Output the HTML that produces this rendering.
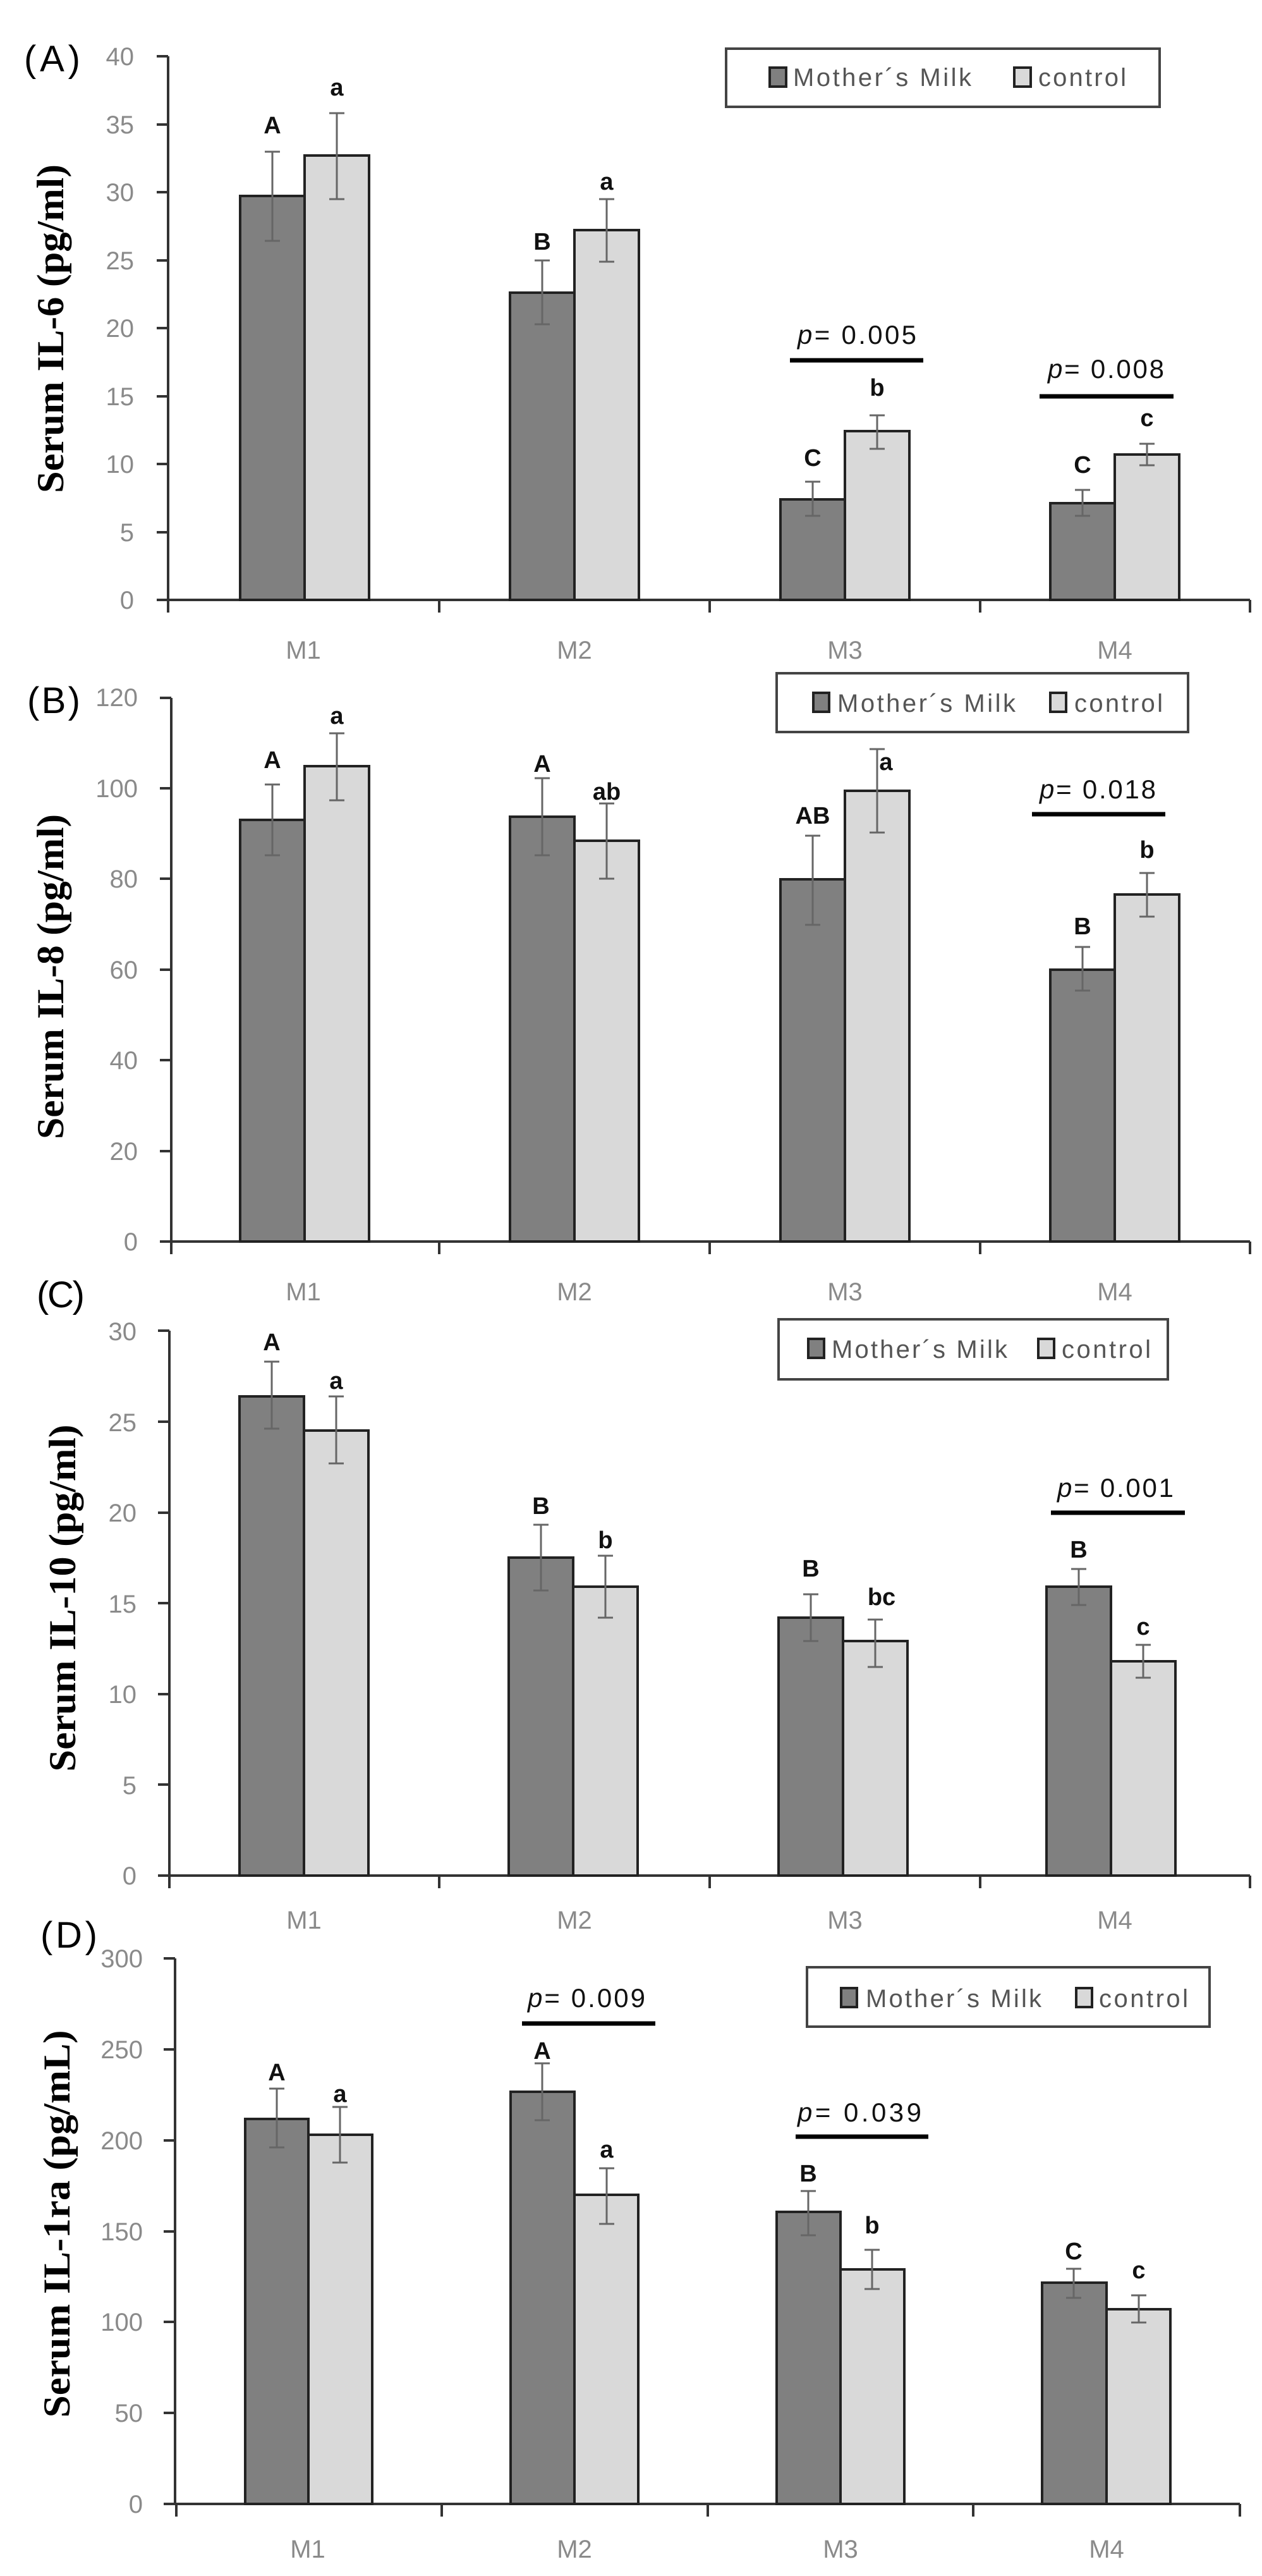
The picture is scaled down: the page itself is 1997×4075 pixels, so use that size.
<!DOCTYPE html>
<html><head><meta charset="utf-8"><style>
html,body{margin:0;padding:0;background:#fff}
svg{display:block}
.t{font-family:"Liberation Sans",sans-serif;font-size:40px;fill:#8a8a8a}
.xl{font-family:"Liberation Sans",sans-serif;font-size:40px;fill:#8a8a8a;text-anchor:middle}
.lt{font-family:"Liberation Sans",sans-serif;font-size:38px;font-weight:bold;fill:#111;text-anchor:middle}
.pv{font-family:"Liberation Sans",sans-serif;font-size:42px;fill:#111;text-anchor:middle}
.yt{font-family:"Liberation Serif",serif;font-size:60px;font-weight:bold;fill:#000;text-anchor:middle}
.pl{font-family:"Liberation Sans",sans-serif;font-size:58px;fill:#000}
.lg{font-family:"Liberation Sans",sans-serif;font-size:40px;fill:#555}
.d{fill:#808080;stroke:#222;stroke-width:4}
.l{fill:#d9d9d9;stroke:#222;stroke-width:4}
.e{stroke:#666;stroke-width:3;fill:none}
.ax{stroke:#333;stroke-width:4;fill:none}
.pb{stroke:#000;stroke-width:7}
.box{fill:#fff;stroke:#444;stroke-width:4}
</style></head><body>
<svg width="1997" height="4075" viewBox="0 0 1997 4075" xmlns="http://www.w3.org/2000/svg">

<!-- ============ PANEL A ============ -->
<text class="pl" x="38" y="113" textLength="89">(A)</text>
<text class="yt" transform="translate(100,520) rotate(-90)" textLength="520" lengthAdjust="spacingAndGlyphs">Serum IL-6 (pg/ml)</text>
<g class="t" text-anchor="end">
<text x="212" y="963">0</text><text x="212" y="856">5</text><text x="212" y="748">10</text>
<text x="212" y="641">15</text><text x="212" y="533">20</text><text x="212" y="426">25</text>
<text x="212" y="318">30</text><text x="212" y="211">35</text><text x="212" y="103">40</text>
</g>
<path class="ax" d="M266 89 V949 M248 949H1978 M248 842H266 M248 734H266 M248 627H266 M248 519H266 M248 412H266 M248 304H266 M248 197H266 M248 89H266 M266 949V969 M695 949V969 M1123 949V969 M1551 949V969 M1978 949V969"/>
<rect class="d" x="380" y="310" width="102" height="639"/><rect class="l" x="482" y="246" width="102" height="703"/>
<rect class="d" x="807" y="463" width="102" height="486"/><rect class="l" x="909" y="364" width="102" height="585"/>
<rect class="d" x="1235" y="790" width="102" height="159"/><rect class="l" x="1337" y="682" width="102" height="267"/>
<rect class="d" x="1662" y="796" width="102" height="153"/><rect class="l" x="1764" y="719" width="102" height="230"/>
<path class="e" d="M431 240V381M419 240H443M419 381H443 M533 179V315M521 179H545M521 315H545 M858 412V513M846 412H870M846 513H870 M960 315V414M948 315H972M948 414H972 M1286 762V816M1274 762H1298M1274 816H1298 M1388 657V710M1376 657H1400M1376 710H1400 M1713 775V816M1701 775H1725M1701 816H1725 M1815 702V736M1803 702H1827M1803 736H1827"/>
<g class="lt"><text x="431" y="211">A</text><text x="533" y="151">a</text><text x="858" y="395">B</text><text x="960" y="300">a</text><text x="1388" y="626">b</text><text x="1286" y="737">C</text><text x="1713" y="748">C</text><text x="1815" y="674">c</text></g>
<path class="pb" d="M1250 570H1461 M1645 627H1857"/>
<text class="pv" x="1356" y="544" textLength="188"><tspan font-style="italic">p</tspan>= 0.005</text>
<text class="pv" x="1750" y="598" textLength="184"><tspan font-style="italic">p</tspan>= 0.008</text>
<rect class="box" x="1149" y="77" width="686" height="92"/>
<rect class="d" x="1218" y="107" width="26" height="30" stroke-width="3"/>
<text class="lg" x="1255" y="136" textLength="282">Mother´s Milk</text>
<rect class="l" x="1605" y="107" width="26" height="30" stroke-width="3"/>
<text class="lg" x="1643" y="136" textLength="139">control</text>
<g class="xl"><text x="480" y="1042">M1</text><text x="909" y="1042">M2</text><text x="1337" y="1042">M3</text><text x="1764" y="1042">M4</text></g>

<!-- ============ PANEL B ============ -->
<text class="pl" x="43" y="1128" textLength="84">(B)</text>
<text class="yt" transform="translate(100,1545) rotate(-90)" textLength="514" lengthAdjust="spacingAndGlyphs">Serum IL-8 (pg/ml)</text>
<g class="t" text-anchor="end">
<text x="218" y="1978">0</text><text x="218" y="1835">20</text><text x="218" y="1691">40</text>
<text x="218" y="1548">60</text><text x="218" y="1404">80</text><text x="218" y="1261">100</text>
<text x="218" y="1117">120</text>
</g>
<path class="ax" d="M271 1104V1964 M253 1964H1978 M253 1821H271 M253 1677H271 M253 1534H271 M253 1390H271 M253 1247H271 M253 1104H271 M271 1964V1984 M695 1964V1984 M1123 1964V1984 M1551 1964V1984 M1978 1964V1984"/>
<rect class="d" x="380" y="1297" width="102" height="667"/><rect class="l" x="482" y="1212" width="102" height="752"/>
<rect class="d" x="807" y="1292" width="102" height="672"/><rect class="l" x="909" y="1330" width="102" height="634"/>
<rect class="d" x="1235" y="1391" width="102" height="573"/><rect class="l" x="1337" y="1251" width="102" height="713"/>
<rect class="d" x="1662" y="1534" width="102" height="430"/><rect class="l" x="1764" y="1415" width="102" height="549"/>
<path class="e" d="M431 1241V1353M419 1241H443M419 1353H443 M533 1160V1266M521 1160H545M521 1266H545 M858 1231V1353M846 1231H870M846 1353H870 M960 1271V1390M948 1271H972M948 1390H972 M1286 1322V1463M1274 1322H1298M1274 1463H1298 M1388 1185V1317M1376 1185H1400M1376 1317H1400 M1713 1498V1567M1701 1498H1725M1701 1567H1725 M1815 1381V1450M1803 1381H1827M1803 1450H1827"/>
<g class="lt"><text x="431" y="1215">A</text><text x="533" y="1145">a</text><text x="858" y="1221">A</text><text x="960" y="1265">ab</text><text x="1286" y="1303">AB</text><text x="1402" y="1218">a</text><text x="1713" y="1478">B</text><text x="1815" y="1357">b</text></g>
<path class="pb" d="M1633 1288H1844"/>
<text class="pv" x="1737" y="1263" textLength="184"><tspan font-style="italic">p</tspan>= 0.018</text>
<rect class="box" x="1229" y="1065" width="651" height="93"/>
<rect class="d" x="1287" y="1096" width="25" height="30" stroke-width="3"/>
<text class="lg" x="1325" y="1126" textLength="282">Mother´s Milk</text>
<rect class="l" x="1662" y="1096" width="25" height="30" stroke-width="3"/>
<text class="lg" x="1700" y="1126" textLength="140">control</text>
<g class="xl"><text x="480" y="2057">M1</text><text x="909" y="2057">M2</text><text x="1337" y="2057">M3</text><text x="1764" y="2057">M4</text></g>

<!-- ============ PANEL C ============ -->
<text class="pl" x="58" y="2068" textLength="76">(C)</text>
<text class="yt" transform="translate(119,2528) rotate(-90)" textLength="549" lengthAdjust="spacingAndGlyphs">Serum IL-10 (pg/ml)</text>
<g class="t" text-anchor="end">
<text x="216" y="2981">0</text><text x="216" y="2838">5</text><text x="216" y="2694">10</text>
<text x="216" y="2551">15</text><text x="216" y="2407">20</text><text x="216" y="2264">25</text>
<text x="216" y="2120">30</text>
</g>
<path class="ax" d="M268 2105V2967 M250 2967H1978 M250 2823H268 M250 2680H268 M250 2536H268 M250 2393H268 M250 2249H268 M250 2105H268 M268 2967V2987 M695 2967V2987 M1123 2967V2987 M1551 2967V2987 M1978 2967V2987"/>
<rect class="d" x="379" y="2209" width="102" height="758"/><rect class="l" x="481" y="2263" width="102" height="704"/>
<rect class="d" x="805" y="2464" width="102" height="503"/><rect class="l" x="907" y="2510" width="102" height="457"/>
<rect class="d" x="1232" y="2559" width="102" height="408"/><rect class="l" x="1334" y="2596" width="102" height="371"/>
<rect class="d" x="1656" y="2510" width="102" height="457"/><rect class="l" x="1758" y="2628" width="102" height="339"/>
<path class="e" d="M430 2154V2260M418 2154H442M418 2260H442 M532 2209V2315M520 2209H544M520 2315H544 M856 2412V2516M844 2412H868M844 2516H868 M958 2461V2559M946 2461H970M946 2559H970 M1283 2522V2596M1271 2522H1295M1271 2596H1295 M1385 2562V2637M1373 2562H1397M1373 2637H1397 M1707 2482V2539M1695 2482H1719M1695 2539H1719 M1809 2602V2654M1797 2602H1821M1797 2654H1821"/>
<g class="lt"><text x="430" y="2136">A</text><text x="532" y="2197">a</text><text x="856" y="2395">B</text><text x="958" y="2449">b</text><text x="1283" y="2494">B</text><text x="1395" y="2539">bc</text><text x="1707" y="2464">B</text><text x="1809" y="2586">c</text></g>
<path class="pb" d="M1663 2393H1875"/>
<text class="pv" x="1765" y="2368" textLength="184"><tspan font-style="italic">p</tspan>= 0.001</text>
<rect class="box" x="1232" y="2087" width="616" height="95"/>
<rect class="d" x="1279" y="2118" width="25" height="30" stroke-width="3"/>
<text class="lg" x="1316" y="2148" textLength="278">Mother´s Milk</text>
<rect class="l" x="1643" y="2118" width="25" height="30" stroke-width="3"/>
<text class="lg" x="1680" y="2148" textLength="141">control</text>
<g class="xl"><text x="481" y="3051">M1</text><text x="909" y="3051">M2</text><text x="1337" y="3051">M3</text><text x="1764" y="3051">M4</text></g>

<!-- ============ PANEL D ============ -->
<text class="pl" x="64" y="3081" textLength="90">(D)</text>
<text class="yt" transform="translate(110,3518) rotate(-90)" textLength="613" lengthAdjust="spacingAndGlyphs">Serum IL-1ra (pg/mL)</text>
<g class="t" text-anchor="end">
<text x="226" y="3975">0</text><text x="226" y="3831">50</text><text x="226" y="3687">100</text>
<text x="226" y="3544">150</text><text x="226" y="3400">200</text><text x="226" y="3256">250</text>
<text x="226" y="3112">300</text>
</g>
<path class="ax" d="M277 3098V3961 M259 3961H1962 M259 3817H277 M259 3673H277 M259 3530H277 M259 3386H277 M259 3242H277 M259 3098H277 M279 3961V3981 M699 3961V3981 M1120 3961V3981 M1540 3961V3981 M1962 3961V3981"/>
<rect class="d" x="388" y="3352" width="100" height="609"/><rect class="l" x="488" y="3377" width="101" height="584"/>
<rect class="d" x="808" y="3309" width="101" height="652"/><rect class="l" x="909" y="3472" width="101" height="489"/>
<rect class="d" x="1229" y="3499" width="101" height="462"/><rect class="l" x="1330" y="3590" width="101" height="371"/>
<rect class="d" x="1649" y="3611" width="102" height="350"/><rect class="l" x="1751" y="3653" width="101" height="308"/>
<path class="e" d="M438 3304V3397M426 3304H450M426 3397H450 M538 3333V3421M526 3333H550M526 3421H550 M858 3264V3354M846 3264H870M846 3354H870 M960 3430V3518M948 3430H972M948 3518H972 M1279 3466V3536M1267 3466H1291M1267 3536H1291 M1380 3559V3621M1368 3559H1392M1368 3621H1392 M1699 3589V3635M1687 3589H1711M1687 3635H1711 M1802 3631V3674M1790 3631H1814M1790 3674H1814"/>
<g class="lt"><text x="438" y="3291">A</text><text x="538" y="3325">a</text><text x="858" y="3257">A</text><text x="960" y="3413">a</text><text x="1279" y="3451">B</text><text x="1380" y="3533">b</text><text x="1699" y="3574">C</text><text x="1802" y="3604">c</text></g>
<path class="pb" d="M826 3201H1037 M1259 3380H1469"/>
<text class="pv" x="928" y="3175" textLength="186"><tspan font-style="italic">p</tspan>= 0.009</text>
<text class="pv" x="1360" y="3356" textLength="196"><tspan font-style="italic">p</tspan>=  0.039</text>
<rect class="box" x="1277" y="3112" width="637" height="94"/>
<rect class="d" x="1331" y="3145" width="25" height="30" stroke-width="3"/>
<text class="lg" x="1370" y="3175" textLength="278">Mother´s Milk</text>
<rect class="l" x="1703" y="3145" width="25" height="30" stroke-width="3"/>
<text class="lg" x="1739" y="3175" textLength="141">control</text>
<g class="xl"><text x="487" y="4046">M1</text><text x="909" y="4046">M2</text><text x="1330" y="4046">M3</text><text x="1751" y="4046">M4</text></g>
</svg>
</body></html>
